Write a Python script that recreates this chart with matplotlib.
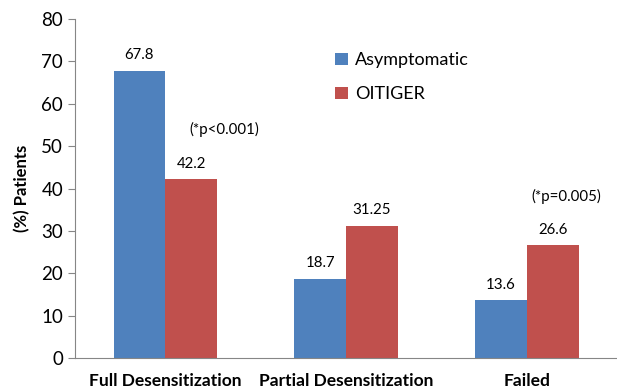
import matplotlib
matplotlib.use('Agg')
import matplotlib.pyplot as plt
import numpy as np

plt.rcParams['font.family'] = ['Lato', 'DejaVu Sans']

categories = ['Full Desensitization', 'Partial Desensitization', 'Failed']
asymptomatic = [67.8, 18.7, 13.6]
oitiger = [42.2, 31.25, 26.6]
asym_labels = ['67.8', '18.7', '13.6']
oitiger_labels = ['42.2', '31.25', '26.6']
y_ticks = [0, 10, 20, 30, 40, 50, 60, 70, 80]

BLUE = '#4F81BD'
RED = '#C0504D'
AXIS_GREY = '#868686'

fig = plt.figure(figsize=(6.17, 3.90), dpi=100)
ax = fig.add_axes([0.1216, 0.082, 0.8784, 0.869])

x = np.arange(len(categories))
width = 0.287

bars_a = ax.bar(x - width / 2, asymptomatic, width, color=BLUE, label='Asymptomatic')
bars_o = ax.bar(x + width / 2, oitiger, width, color=RED, label='OITIGER')

for bar, text in zip(bars_a, asym_labels):
    ax.text(bar.get_x() + bar.get_width() / 2, bar.get_height() + 2.0, text,
            ha='center', va='bottom', fontsize=10.8)
for bar, text in zip(bars_o, oitiger_labels):
    ax.text(bar.get_x() + bar.get_width() / 2, bar.get_height() + 2.0, text,
            ha='center', va='bottom', fontsize=10.8)

# p-value notes
ax.text(0.325, 54.0, '(*p<0.001)', ha='center', va='center', fontsize=10.8)
ax.text(2.217, 38.2, '(*p=0.005)', ha='center', va='center', fontsize=10.8)

ax.set_xlim(-0.5, 2.5)
ax.set_ylim(0, 80)
ax.set_yticks(y_ticks)
ax.set_xticks(x)
ax.set_xticklabels(categories, fontsize=12.5, fontweight='bold')
ax.tick_params(axis='x', length=0, pad=11)
ax.tick_params(axis='y', labelsize=13.5, length=5, color=AXIS_GREY, direction='out')
ax.set_ylabel('(%) Patients', fontsize=12, fontweight='bold', labelpad=8)

for side in ['top', 'right']:
    ax.spines[side].set_visible(False)
for side in ['left', 'bottom']:
    ax.spines[side].set_color(AXIS_GREY)

ax.legend(loc='upper left', bbox_to_anchor=(0.45, 0.95), frameon=False,
          fontsize=13, handlelength=0.7, handleheight=0.7, handletextpad=0.4,
          labelspacing=1.0)

fig.savefig('out.png', dpi=100)
